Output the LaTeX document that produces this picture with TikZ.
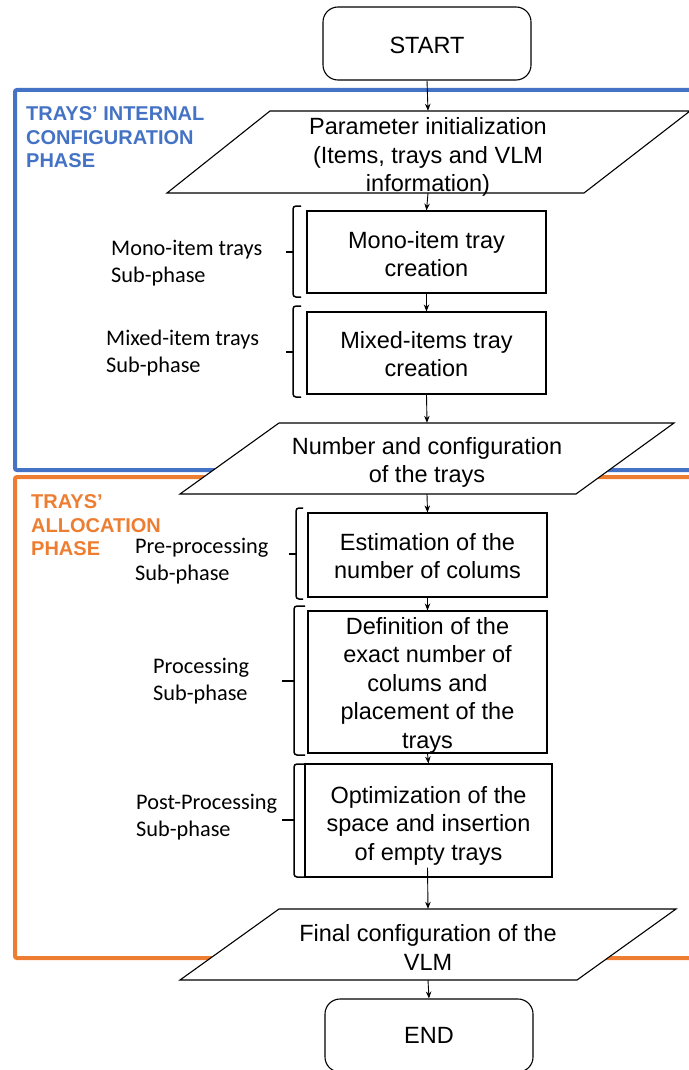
\documentclass[tikz,border=0pt]{standalone}
\usepackage{fontspec}
\setmainfont{Liberation Sans}
\newfontfamily\calibrifont{Carlito}
\usetikzlibrary{arrows.meta,calc}
\definecolor{phaseblue}{HTML}{4472C4}
\definecolor{phaseorange}{HTML}{ED7D31}
% #1 = x of hook ends, #2 = x of vertical line, #3 = x of tip, #4 = top y, #5 = bottom y, #6 = tip y
\newcommand{\mysubbrace}[6]{%
  \draw[bracestyle, rounded corners=3pt] (#1,#4) -- (#2,#4) -- (#2,#5) -- (#1,#5);
  \draw[bracestyle] (#2,#6) -- (#3,#6);
}
\begin{document}
\begin{tikzpicture}[x=1pt,y=-1pt,
  boxtext/.style={font=\fontsize{23.5}{28.5}\selectfont, align=center, inner sep=0pt},
  procbox/.style={draw, line width=1.1pt, minimum width=239pt, inner sep=0pt},
  termbox/.style={draw, line width=1.1pt, rounded corners=15pt, minimum width=208pt, minimum height=73pt, inner sep=0pt},
  para/.style={fill=white, draw=black, line width=1.1pt},
  paraanchor/.style={inner sep=0pt, minimum width=10pt},
  conn/.style={-{Stealth[length=7pt,width=5.5pt]}, line width=0.9pt},
  phasebox/.style={line width=4pt, rounded corners=2pt},
  phaselabel/.style={font=\bfseries\fontsize{20}{23.5}\selectfont, align=left, inner sep=0pt, anchor=west},
  sublabel/.style={font=\calibrifont\fontsize{22.3}{27}\selectfont, align=left, inner sep=0pt, anchor=west},
  bracestyle/.style={line width=1.5pt},
]
\useasboundingbox (0,0) rectangle (688,1070);

% phase frames
\draw[phasebox, phaseblue] (15,90) rectangle (710,470);
\draw[phasebox, phaseorange] (15,477) rectangle (710,958);

\node[phaselabel, text=phaseblue] (lblue) at (26,137.5) {TRAYS’ INTERNAL\\CONFIGURATION\\PHASE};
\node[phaselabel, text=phaseorange] (lorange) at (31,525.5) {TRAYS’\\ALLOCATION\\PHASE};

% terminals
\node[termbox, label={[boxtext, yshift=-2pt]center:START}] (start) at (427,43.5) {};
\node[termbox, label={[boxtext]center:END}] (end) at (429,1035.5) {};

% parallelograms
\filldraw[para] (270,111) -- (690,111) -- (584,193) -- (167,193) -- cycle;
\node[paraanchor, minimum height=82pt, label={[boxtext, yshift=-5pt]center:{Parameter initialization\\(Items, trays and VLM\\information)}}] (p1) at (428,152) {};

\filldraw[para] (279,423) -- (674,423) -- (576,494) -- (180,494) -- cycle;
\node[paraanchor, minimum height=71pt, label={[boxtext, yshift=-4pt]center:{Number and configuration\\of the trays}}] (p2) at (427,458.5) {};

\filldraw[para] (279,909) -- (676,909) -- (577,980) -- (180,980) -- cycle;
\node[paraanchor, minimum height=71pt, label={[boxtext, yshift=-3pt]center:{Final configuration of the\\VLM}}] (p3) at (428,944.5) {};

% process boxes
\node[procbox, minimum height=82pt, label={[boxtext, yshift=-2pt]center:{Mono-item tray\\creation}}] (mono) at (426.5,252) {};
\node[procbox, minimum height=82pt, label={[boxtext, yshift=-1pt]center:{Mixed-items tray\\creation}}] (mixed) at (426.5,353) {};
\node[procbox, minimum height=84pt, label={[boxtext, yshift=-1pt]center:{Estimation of the\\number of colums}}] (est) at (427.5,555) {};
\node[procbox, minimum height=142pt, label={[boxtext, yshift=-3pt]center:{Definition of the\\exact number of\\colums and\\placement of the\\trays}}] (def) at (427.5,682) {};
\node[procbox, minimum width=247pt, minimum height=113pt, label={[boxtext, yshift=-5pt]center:{Optimization of the\\space and insertion\\of empty trays}}] (opt) at (428.5,820.5) {};

% connectors
\draw[conn] (start.south) -- (p1.north);
\draw[conn] (p1.south) -- (mono.north);
\draw[conn] (mono.south) -- (mixed.north);
\draw[conn] (mixed.south) -- (p2.north);
\draw[conn] (p2.south) -- (est.north);
\draw[conn] (est.south) -- (def.north);
\draw[conn] (def.south) -- (opt.north);
\draw[conn] ($(opt.south)+(-1,-10)$) -- (p3.north);
\draw[conn] (p3.south) -- (end.north);

% braces
\mysubbrace{301}{293}{286}{206}{297}{252}
\mysubbrace{301}{293}{286}{306}{397}{352}
\mysubbrace{303}{296}{289}{508}{599}{554}
\mysubbrace{305}{294}{282}{606}{755}{681}
\mysubbrace{305}{294}{282}{764}{877}{820}

% sub-phase labels
\node[sublabel] (s1) at (111,263) {Mono-item trays\\Sub-phase};
\node[sublabel] (s2) at (106,353) {Mixed-item trays\\Sub-phase};
\node[sublabel] (s3) at (135,561) {Pre-processing\\Sub-phase};
\node[sublabel] (s4) at (153,681) {Processing\\Sub-phase};
\node[sublabel] (s5) at (136,817) {Post-Processing\\Sub-phase};
\end{tikzpicture}
\end{document}
